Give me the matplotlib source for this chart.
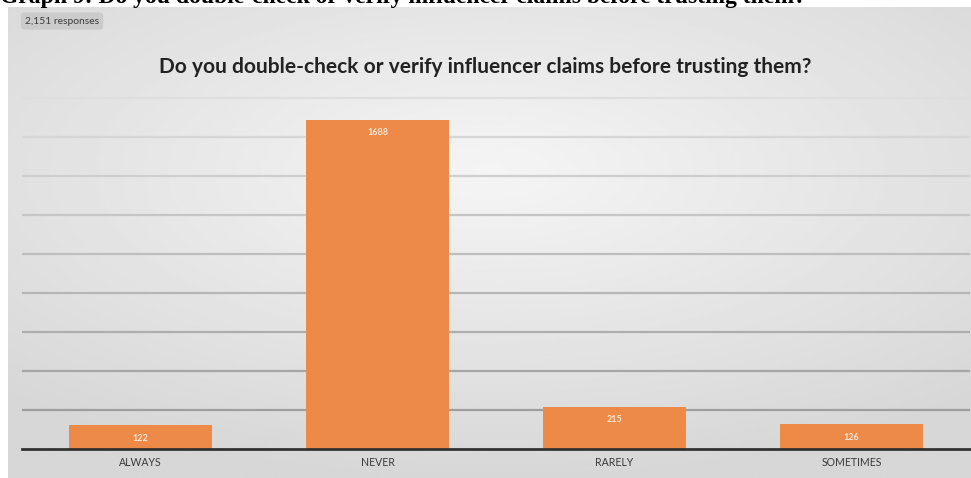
import numpy as np
import matplotlib.pyplot as plt

# Survey answers
categories = ['ALWAYS', 'NEVER', 'RARELY', 'SOMETIMES']
counts = [122, 1688, 215, 126]
total_label = '2,151 responses'
title = 'Do you double-check or verify influencer claims before trusting them?'
caption = 'Graph 9: Do you double-check or verify influencer claims before trusting them?'

W, H = 971, 478
fig = plt.figure(figsize=(W / 100, H / 100), dpi=100)
fig.patch.set_facecolor('white')

# caption cut off at the top edge (drawn first so the panel sits over it)
fig.text(0.0, 1 - 3 / H, caption, fontsize=17, fontweight='bold',
         family='Liberation Serif', va='baseline', ha='left', color='black')

# gray panel with a soft light centre
bg = fig.add_axes([8 / W, 0, 1 - 8 / W, 1 - 7 / H])
yy, xx = np.mgrid[-1:1:200j, -1:1:400j]
shade = 0.96 - 0.10 * np.clip(np.sqrt((xx * 0.8) ** 2 + ((yy + 0.3) * 0.9) ** 2), 0, 1.2)
bg.imshow(shade, cmap='gray', vmin=0, vmax=1, aspect='auto', extent=[0, 1, 0, 1])
bg.set_axis_off()

ax = fig.add_axes([22 / W, 29 / H, 948 / W, 390 / H])
ax.patch.set_alpha(0)

x = np.arange(len(categories))
bars = ax.bar(x, counts, width=0.6, color='#ee8a47', zorder=3)

# horizontal gridlines, fading towards the top
for v in range(200, 2000, 200):
    t = (v - 200) / 1600
    ax.axhline(v, color=str(0.62 + 0.25 * t), linewidth=1.6, zorder=1)

for b, c in zip(bars, counts):
    ax.annotate(str(c), (b.get_x() + b.get_width() / 2, c), xytext=(0, -6),
                textcoords='offset points', ha='center', va='top',
                fontsize=6.5, color='#fbe6d8', fontweight='bold', family='Lato', zorder=4)

ax.set_xlim(-0.5, 3.5)
ax.set_ylim(0, 2000)
ax.set_yticks([])
ax.set_xticks(x)
ax.set_xticklabels(categories, fontsize=7.6, color='#3a3a3a', family='Lato')
ax.tick_params(axis='x', length=0, pad=6)
for s in ['top', 'right', 'left']:
    ax.spines[s].set_visible(False)
ax.spines['bottom'].set_color('#333333')
ax.spines['bottom'].set_linewidth(2)
ax.spines['bottom'].set_zorder(5)

fig.text(0.5, 1 - 67 / H, title, ha='center', va='center', fontsize=15,
         fontweight='bold', family='Lato', color='#222222')

fig.text(25 / W, 1 - 21 / H, total_label, ha='left', va='center', fontsize=7.4,
         color='#3c3c3c', family='Lato',
         bbox=dict(boxstyle='round,pad=0.4', fc='#cbcbcb', ec='none'))

fig.savefig('out.png', dpi=100)
